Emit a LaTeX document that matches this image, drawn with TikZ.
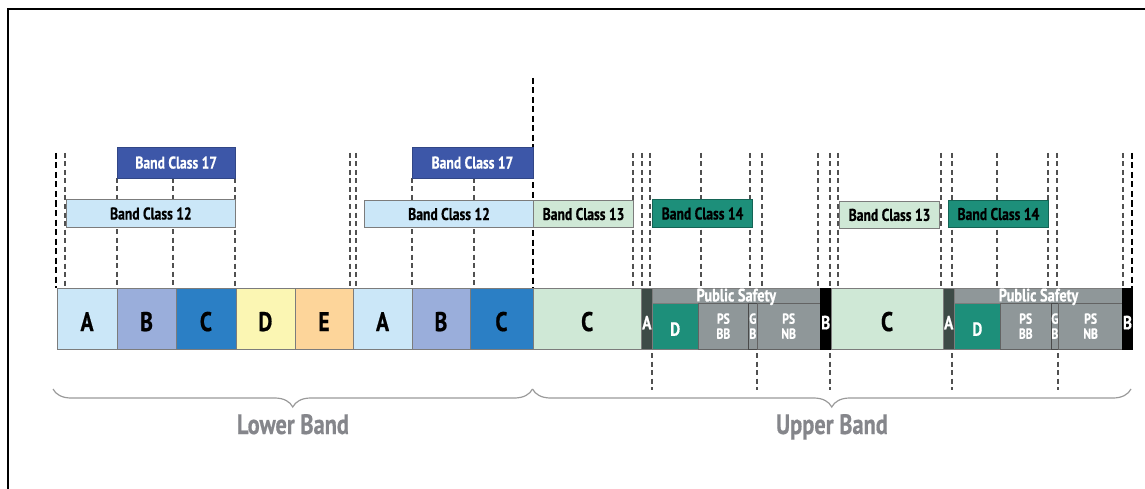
\documentclass[tikz,border=0pt]{standalone}
\usepackage{fontspec}
\setmainfont{PT Sans}[FakeStretch=0.8, BoldFeatures={FakeBold=0.6}]
\usetikzlibrary{decorations.pathreplacing}
\definecolor{cLA}{HTML}{CBE7F8}
\definecolor{cLB}{HTML}{9AAEDB}
\definecolor{cLC}{HTML}{2B7FC5}
\definecolor{cLD}{HTML}{FBF6B3}
\definecolor{cLE}{HTML}{FDD59A}
\definecolor{cUC}{HTML}{CFE8D6}
\definecolor{cDark}{HTML}{3D4B47}
\definecolor{cTeal}{HTML}{1D8F7A}
\definecolor{cPS}{HTML}{8F9799}
\definecolor{cBC}{HTML}{3D57A8}
\definecolor{cBar}{HTML}{7C7C7C}
\definecolor{cDash}{HTML}{505050}
\definecolor{cLabel}{HTML}{85868B}
\definecolor{cBrace}{HTML}{9A9A9A}
\newcommand\blk[8]{%
  \node[blk, fill=#6, minimum width={#3-#2}, minimum height={#5-#4}] (#1) at (#2,#4) {};
  \node[blktxt, text=#7] (#1t) at ([yshift=-3pt]#1.center) {#8};}
\newcommand\bcbox[8]{%
  \node[bcb, fill=#6, draw=#7, minimum width={#3-#2}, minimum height={#5-#4}] (#1) at (#2,#4) {};
  \node[bctxt, text=#8] (#1t) at (#1.center) {Band Class \bcnum};}
\begin{document}
\begin{tikzpicture}[x=1pt,y=-1pt,
  blk/.style={draw=cBar, line width=0.7pt, inner sep=0pt, anchor=north west},
  blktxt/.style={inner sep=0pt, font=\bfseries\fontsize{27}{27}\selectfont},
  wtxt/.style={inner sep=0pt, text=white, font=\bfseries\fontsize{19}{19}\selectfont},
  pstxt/.style={inner sep=0pt, text=white, align=center, font=\bfseries\fontsize{14.5}{15}\selectfont},
  bcb/.style={line width=0.8pt, inner sep=0pt, anchor=north west},
  bctxt/.style={inner sep=0pt, font=\bfseries\fontsize{17}{17}\selectfont},
  gdash/.style={draw=cDash, line width=1.9pt, dash pattern=on 5pt off 3.5pt},
  kdash/.style={draw=black, line width=2.4pt, dash pattern=on 6pt off 3.5pt},
  bandlabel/.style={anchor=base, text=cLabel, inner sep=0pt, font=\bfseries\fontsize{28}{28}\selectfont},
  bracestyle/.style={draw=cBrace, line width=1.2pt, decorate, decoration={brace, mirror, amplitude=18pt}}
]
\useasboundingbox (0,0) rectangle (1145,489);
% frame
\draw[line width=2.5pt] (8,489) -- (8,9) -- (1145,9);
% dashed guide lines (above the bar)
\foreach \x in {65,235,350,356,633.3,641.7,650,701,750,761.7,818.3,830,838.3,941,951.7,996.7,1048.3,1057.3,1123.3}
  \draw[gdash] (\x,153) -- (\x,287.5);
\foreach \x in {116.7,173.3,411.7,474.3}
  \draw[gdash] (\x,178) -- (\x,287.5);
\draw[kdash] (55.7,153) -- (55.7,287.5);
\draw[kdash] (1131.7,153) -- (1131.7,287.5);
\draw[kdash] (532.7,78) -- (532.7,287.5);
% dashed guide lines (below the bar)
\foreach \x in {651.7,756.7,830,951.7,1058.3}
  \draw[gdash] (\x,353) -- (\x,390);
% lower band blocks
\blk{lA}{56.7}{116.7}{287.5}{349}{cLA}{black}{A}
\blk{lB}{116.7}{175.7}{287.5}{349}{cLB}{black}{B}
\blk{lC}{175.7}{235.5}{287.5}{349}{cLC}{black}{C}
\blk{lD}{235.5}{294.5}{287.5}{349}{cLD}{black}{D}
\blk{lE}{294.5}{352.7}{287.5}{349}{cLE}{black}{E}
\blk{mA}{352.7}{411.7}{287.5}{349}{cLA}{black}{A}
\blk{mB}{411.7}{469.5}{287.5}{349}{cLB}{black}{B}
\blk{mC}{469.5}{532.7}{287.5}{349}{cLC}{black}{C}
% upper band, first half
\blk{uCa}{532.7}{641}{287.5}{349}{cUC}{black}{C}
\node[blk, fill=cDark, minimum width=11, minimum height=61.5] (uAa) at (641,287.5) {};
\node[wtxt] (uAat) at ([yshift=-4pt]uAa.center) {A};
\node[blk, draw=cBar, fill=cPS, minimum width=168, minimum height=15] (psHa) at (652,287.5) {};
\node[blk, fill=cTeal, minimum width=45.7, minimum height=46.5] (uDa) at (652,302.5) {};
\node[wtxt] (uDat) at ([yshift=-3pt]uDa.center) {D};
\node[blk, draw=cBar!80!black, fill=cPS, minimum width=50.6, minimum height=46.5] (uBBa) at (697.7,302.5) {};
\node[pstxt] (uBBat) at (uBBa.center) {PS\\BB};
\node[blk, draw=cBar!60!black, fill=cPS, minimum width=8.4, minimum height=46.5] (uGBa) at (748.3,302.5) {};
\node[pstxt] (uGBat) at (uGBa.center) {G\\B};
\node[blk, draw=cBar!80!black, fill=cPS, minimum width=63.3, minimum height=46.5] (uNBa) at (756.7,302.5) {};
\node[pstxt] (uNBat) at (uNBa.center) {PS\\NB};
\node[pstxt, font=\bfseries\fontsize{18}{18}\selectfont] (psHat) at ([yshift=-1.5pt]psHa.center) {Public Safety};
\node[blk, draw=black, fill=black, minimum width=10.7, minimum height=61.5] (uBa) at (820,287.5) {};
\node[wtxt] (uBat) at ([yshift=-4pt]uBa.center) {B};
% upper band, second half
\blk{uCb}{830.7}{942.7}{287.5}{349}{cUC}{black}{C}
\node[blk, fill=cDark, minimum width=11.3, minimum height=61.5] (uAb) at (942.7,287.5) {};
\node[wtxt] (uAbt) at ([yshift=-4pt]uAb.center) {A};
\node[blk, draw=cBar, fill=cPS, minimum width=168.3, minimum height=15] (psHb) at (954,287.5) {};
\node[blk, fill=cTeal, minimum width=46, minimum height=46.5] (uDb) at (954,302.5) {};
\node[wtxt] (uDbt) at ([yshift=-3pt]uDb.center) {D};
\node[blk, draw=cBar!80!black, fill=cPS, minimum width=50.7, minimum height=46.5] (uBBb) at (1000,302.5) {};
\node[pstxt] (uBBbt) at (uBBb.center) {PS\\BB};
\node[blk, draw=cBar!60!black, fill=cPS, minimum width=7.6, minimum height=46.5] (uGBb) at (1050.7,302.5) {};
\node[pstxt] (uGBbt) at (uGBb.center) {G\\B};
\node[blk, draw=cBar!80!black, fill=cPS, minimum width=64, minimum height=46.5] (uNBb) at (1058.3,302.5) {};
\node[pstxt] (uNBbt) at (uNBb.center) {PS\\NB};
\node[pstxt, font=\bfseries\fontsize{18}{18}\selectfont] (psHbt) at ([yshift=-1.5pt]psHb.center) {Public Safety};
\node[blk, draw=black, fill=black, minimum width=9.7, minimum height=61.5] (uBb) at (1122.3,287.5) {};
\node[wtxt] (uBbt) at ([yshift=-4pt]uBb.center) {B};
% band class boxes
\def\bcnum{17}
\bcbox{bcA}{116.7}{235}{146.7}{177.7}{cBC}{cBC!80!black}{white}
\bcbox{bcB}{411.7}{532.5}{146.7}{177.7}{cBC}{cBC!80!black}{white}
\def\bcnum{12}
\bcbox{bcC}{66}{235}{199.5}{226.8}{cLA}{cBar}{black}
\bcbox{bcD}{364.3}{533}{200}{227.3}{cLA}{cBar}{black}
\def\bcnum{13}
\bcbox{bcE}{533}{633.3}{200}{227.3}{cUC}{cBar}{black}
\bcbox{bcF}{839.3}{939}{200.7}{228.3}{cUC}{cBar}{black}
\def\bcnum{14}
\bcbox{bcG}{652}{752.3}{199.5}{226.8}{cTeal}{cTeal!70!black}{black}
\bcbox{bcH}{947.7}{1048.3}{200}{227.3}{cTeal}{cTeal!70!black}{black}
% braces and band labels
\coordinate (brL1) at (53,389);
\coordinate (brL2) at (532.5,389);
\coordinate (brU2) at (1131,389);
\draw[bracestyle] (brL1) -- (brL2);
\draw[bracestyle] (brL2) -- (brU2);
\node[bandlabel] (lowerlbl) at (293,434) {Lower Band};
\node[bandlabel] (upperlbl) at (832,434) {Upper Band};
\end{tikzpicture}
\end{document}
